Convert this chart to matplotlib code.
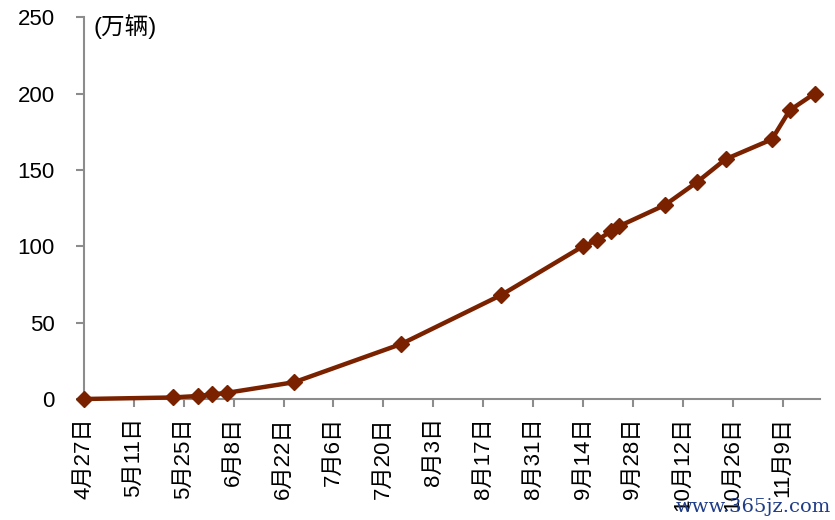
import matplotlib
matplotlib.use('Agg')
import matplotlib.pyplot as plt
import pandas as pd

plt.rcParams['font.family'] = ['Liberation Sans', 'Noto Sans CJK SC', 'DejaVu Sans']

# 日期与累计数量(万辆)
dates = ['2020-04-27', '2020-05-22', '2020-05-29', '2020-06-02', '2020-06-06',
         '2020-06-25', '2020-07-25', '2020-08-22', '2020-09-14', '2020-09-18',
         '2020-09-22', '2020-09-24', '2020-10-07', '2020-10-16', '2020-10-24',
         '2020-11-06', '2020-11-11', '2020-11-18']
values = [0, 1, 2, 3, 4, 11, 36, 68, 100, 104, 110, 113, 127, 142, 157, 170, 189, 200]

tick_dates = pd.date_range('2020-04-27', '2020-11-09', freq='14D')
tick_labels = [f'{d.month}月{d.day}日' for d in tick_dates]

x = pd.to_datetime(dates)
color = '#7a2200'
grey = '#8c8c8c'

fig = plt.figure(figsize=(8.35, 5.2), dpi=100)
ax = fig.add_axes([0.1006, 0.2327, 0.8814, 0.7343])

ax.plot(x, values, color=color, linewidth=3.2, marker='D', markersize=8.5,
        markerfacecolor=color, markeredgecolor=color, zorder=3, clip_on=False)

ax.set_ylim(0, 250)
ax.set_yticks([0, 50, 100, 150, 200, 250])
ax.set_xlim(pd.Timestamp('2020-04-27'), pd.Timestamp('2020-11-19 12:00'))
ax.set_xticks(tick_dates)
ax.set_xticklabels(tick_labels, rotation=90, va='top', ha='center')

for s in ['top', 'right']:
    ax.spines[s].set_visible(False)
for s in ['left', 'bottom']:
    ax.spines[s].set_color(grey)
    ax.spines[s].set_linewidth(1.5)

ax.tick_params(axis='both', colors=grey, width=1.5, length=6, labelcolor='black')
ax.tick_params(axis='x', pad=7, labelsize=16)
ax.tick_params(axis='y', pad=15, labelsize=16)

ax.text(0.013, 0.974, '(万辆)', transform=ax.transAxes, fontsize=17,
        va='center', ha='left')

fig.text(0.995, 0.008, 'www.365jz.com', fontsize=14, color='#1f3c88',
         family='DejaVu Serif', ha='right', va='bottom')

fig.savefig('out.png', dpi=100)
